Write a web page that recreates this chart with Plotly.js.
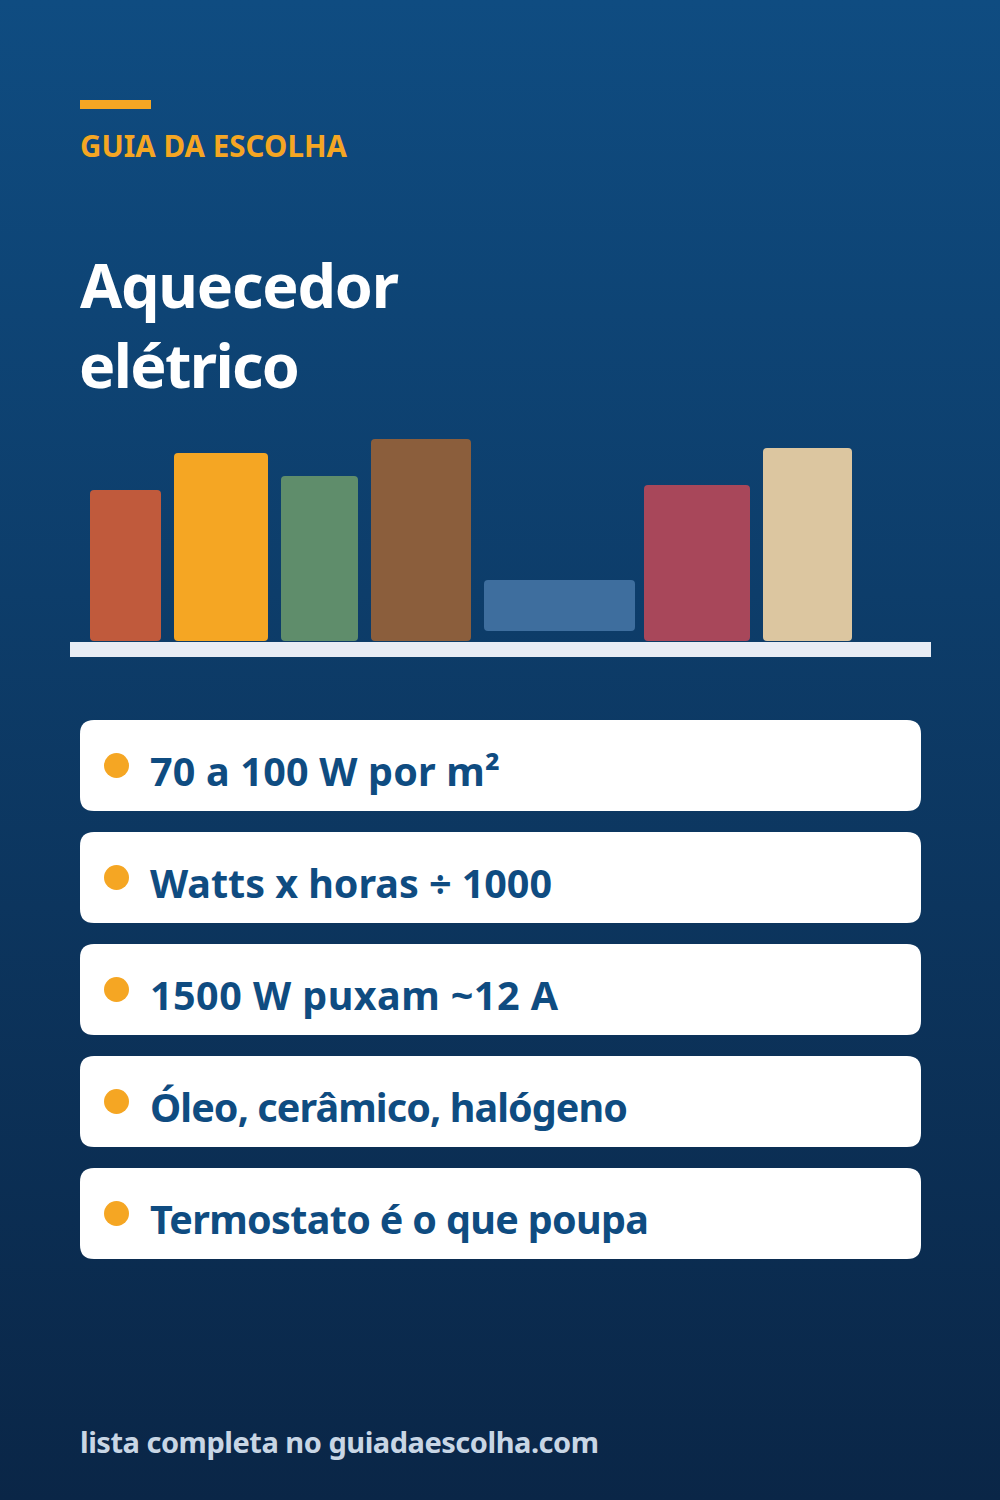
<!DOCTYPE html>
<html>
<head>
<meta charset="utf-8">
<script src="https://cdn.plot.ly/plotly-3.0.1.min.js"></script>
<style>
html,body{margin:0;padding:0;width:1000px;height:1500px;overflow:hidden;background:linear-gradient(180deg,#0F4C81 0%,#0A2647 100%);}
#chart{width:1000px;height:1500px;}
</style>
</head>
<body>
<div id="chart"></div>
<script>
// Data (axis units equal pixels, zero at the shelf top)
const barCenters = [125.5, 221, 319.5, 421, 559.5, 697, 807.5];
const barWidths  = [71, 94, 77, 100, 151, 106, 89];
const barHeights = [151, 188, 165, 202, 51, 156, 193];
const barBases   = [0, 0, 0, 0, 10, 0, 0];
const barColors  = ['#C05A3C', '#F5A623', '#5F8D6B', '#8B5E3C', '#3E6E9E', '#A8475A', '#DCC6A0'];
const cardLabels = ['70 a 100 W por m²', 'Watts x horas ÷ 1000', '1500 W puxam ~12 A', 'Óleo, cerâmico, halógeno', 'Termostato é o que poupa'];
const cardTops   = [720, 832, 944, 1056, 1168];
const eyebrow    = 'GUIA DA ESCOLHA';
const titleLines = ['Aquecedor', 'elétrico'];
const footer     = 'lista completa no guiadaescolha.com';

const FONT = '"Noto Sans", sans-serif';
const ORANGE = '#F5A623', NAVY = '#0F4C81';
const py = p => 641 - p;   // page pixel row to axis value

function roundedRect(x0, x1, top, bottom, r) {
  const a = py(top), b = py(bottom);
  return `M${x0 + r},${a} L${x1 - r},${a} Q${x1},${a} ${x1},${a - r} L${x1},${b + r} Q${x1},${b} ${x1 - r},${b} L${x0 + r},${b} Q${x0},${b} ${x0},${b + r} L${x0},${a - r} Q${x0},${a} ${x0 + r},${a} Z`;
}

const bars = {
  type: 'bar', x: barCenters, width: barWidths, base: barBases, y: barHeights,
  marker: {color: barColors, cornerradius: 4, line: {width: 0}}, hoverinfo: 'skip', showlegend: false
};
const dots = {
  type: 'scatter', mode: 'markers', x: cardTops.map(() => 116.5), y: cardTops.map(t => py(t + 45.5)),
  marker: {color: ORANGE, size: 25, line: {width: 0}}, hoverinfo: 'skip', showlegend: false
};

const shapes = [
  {type: 'rect', x0: 80, x1: 151, y0: py(100), y1: py(109), fillcolor: ORANGE, line: {width: 0}, layer: 'below'},
  {type: 'rect', x0: 70, x1: 931, y0: py(642), y1: py(657), fillcolor: '#E8ECF4', line: {width: 0}, layer: 'below'}
].concat(cardTops.map(t => ({type: 'path', path: roundedRect(80, 921, t, t + 91, 14), fillcolor: '#FFFFFF', line: {width: 0}, layer: 'below'})));

function label(text, x, row, size, color) {
  return {text, x, y: py(row), xref: 'x', yref: 'y', xanchor: 'left', yanchor: 'middle', showarrow: false, borderpad: 0,
          align: 'left', font: {family: FONT, size, color, weight: 700}};
}
const annotations = [
  label(eyebrow, 79, 145, 29.5, ORANGE),
  label(titleLines[0], 78.5, 284, 61, '#FFFFFF'),
  label(titleLines[1], 78, 364, 61, '#FFFFFF'),
  label(footer, 79, 1441.5, 29, '#C8D6E5')
].concat(cardLabels.map((t, i) => label(t, 149, cardTops[i] + 51, 39.5, NAVY)));

// Rendered widths of each text line in the reference, same order as annotations
const textWidths = [267, 319, 221, 519, 350, 402, 408, 478, 499];

Plotly.newPlot('chart', [bars, dots], {
  width: 1000, height: 1500, margin: {l: 0, r: 0, t: 0, b: 0},
  paper_bgcolor: 'rgba(0,0,0,0)', plot_bgcolor: 'rgba(0,0,0,0)',
  barmode: 'overlay', showlegend: false,
  xaxis: {range: [0, 1000], visible: false, fixedrange: true},
  yaxis: {range: [-859, 641], visible: false, fixedrange: true},
  shapes, annotations
}, {displayModeBar: false, staticPlot: true}).then(() => {
  document.querySelectorAll('#chart .annotation-text').forEach((el, i) => {
    el.setAttribute('textLength', textWidths[i]);
    el.setAttribute('lengthAdjust', 'spacing');
  });
});
</script>
</body>
</html>
